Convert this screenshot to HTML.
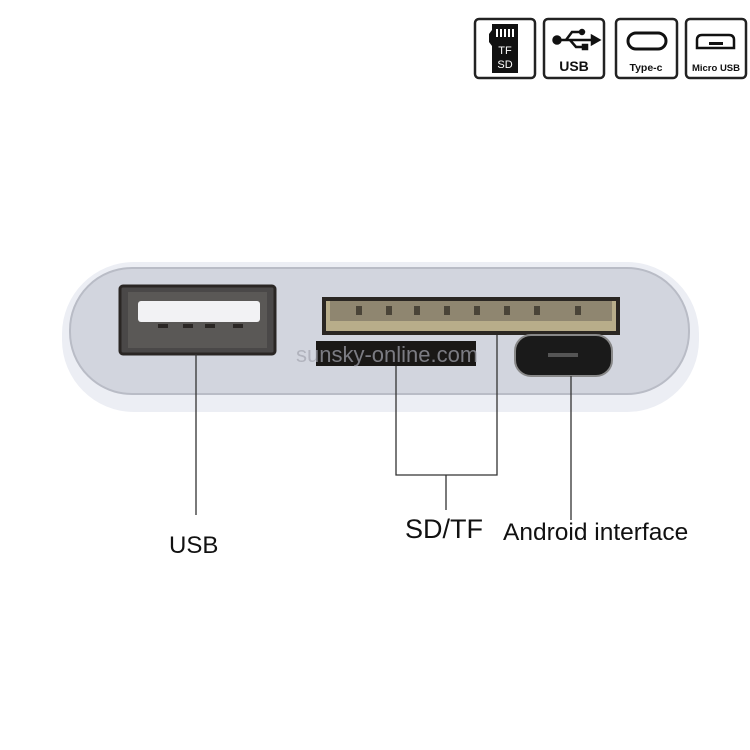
<!DOCTYPE html>
<html><head><meta charset="utf-8"><style>
html,body{margin:0;padding:0;background:#fff;}
svg{display:block}
text{font-family:"Liberation Sans",sans-serif;}
</style></head><body>
<svg width="750" height="750" viewBox="0 0 750 750" xmlns="http://www.w3.org/2000/svg">
<g fill="none" stroke="#222" stroke-width="2.5">
<rect x="475" y="19" width="60" height="59" rx="4"/>
<rect x="544" y="19" width="60" height="59" rx="4"/>
<rect x="616" y="19" width="61" height="59" rx="4"/>
<rect x="686" y="19" width="60" height="59" rx="4"/>
</g>
<path d="M492 24 H518 V73 H492 V46 L489 42 V34 L492 30 Z" fill="#111"/>
<g fill="#fff"><rect x="496" y="29" width="2" height="8"/><rect x="500" y="29" width="2" height="8"/><rect x="504" y="29" width="2" height="8"/><rect x="508" y="29" width="2" height="8"/><rect x="512" y="29" width="2" height="8"/></g>
<text x="505" y="54" font-size="11" fill="#fff" text-anchor="middle">TF</text>
<text x="505" y="68" font-size="11" fill="#fff" text-anchor="middle">SD</text>
<g stroke="#111" stroke-width="2.5" fill="#111">
<line x1="557" y1="40" x2="593" y2="40"/>
<circle cx="557" cy="40" r="3.5"/>
<path d="M592 36 L599 40 L592 44Z"/>
<polyline points="566,40 572,32 580,32" fill="none"/>
<polyline points="570,40 576,47 584,47" fill="none"/>
<circle cx="582" cy="32" r="2"/>
<rect x="583" y="45" width="4" height="4"/>
</g>
<text x="574" y="71" font-size="14" font-weight="bold" fill="#111" text-anchor="middle">USB</text>
<rect x="628" y="33" width="38" height="16" rx="8" fill="none" stroke="#111" stroke-width="3"/>
<text x="646" y="71" font-size="10.5" font-weight="bold" fill="#111" text-anchor="middle">Type-c</text>
<path d="M697 48 V40 Q697 35 702 35 H729 Q734 35 734 40 V48 Z" fill="none" stroke="#111" stroke-width="2.5"/>
<rect x="709" y="42" width="14" height="3" fill="#111"/>
<text x="716" y="71" font-size="9.5" font-weight="bold" fill="#111" text-anchor="middle">Micro USB</text>
<rect x="62" y="262" width="637" height="150" rx="72" fill="#eceef4"/>
<rect x="70" y="268" width="619" height="126" rx="62" fill="#d2d5de" stroke="#b9bcc6" stroke-width="2"/>
<rect x="120" y="286" width="155" height="68" rx="3" fill="#4a4848" stroke="#2a2624" stroke-width="3"/>
<rect x="128" y="292" width="139" height="56" fill="#5a5856"/>
<rect x="138" y="301" width="122" height="21" rx="3" fill="#f2f2f4"/>
<g fill="#2a2624"><rect x="158" y="324" width="10" height="4"/><rect x="183" y="324" width="10" height="4"/><rect x="205" y="324" width="10" height="4"/><rect x="233" y="324" width="10" height="4"/></g>
<rect x="322" y="297" width="298" height="38" fill="#2a2622"/>
<rect x="326" y="301" width="290" height="30" fill="#b8ad8a"/>
<rect x="330" y="301" width="282" height="20" fill="#8f8670"/>
<g fill="#4a4438"><rect x="356" y="306" width="6" height="9"/><rect x="386" y="306" width="6" height="9"/><rect x="414" y="306" width="6" height="9"/><rect x="444" y="306" width="6" height="9"/><rect x="474" y="306" width="6" height="9"/><rect x="504" y="306" width="6" height="9"/><rect x="534" y="306" width="6" height="9"/><rect x="575" y="306" width="6" height="9"/></g>
<rect x="316" y="341" width="160" height="25" fill="#1a1816"/>
<text x="296" y="362" font-size="22" fill="#a4a6b0" opacity="0.7">sunsky-online.com</text>
<rect x="515" y="335" width="97" height="41" rx="16" fill="#1a1a1a" stroke="#888" stroke-width="2"/>
<rect x="548" y="353" width="30" height="4" fill="#555"/>
<g stroke="#333" stroke-width="1.3" fill="none">
<line x1="196" y1="354" x2="196" y2="515"/>
<polyline points="396,366 396,475 497,475 497,335"/>
<line x1="446" y1="475" x2="446" y2="510"/>
<line x1="571" y1="376" x2="571" y2="520"/>
</g>
<text x="169" y="553" font-size="24" fill="#111">USB</text>
<text x="405" y="538" font-size="27" fill="#111">SD/TF</text>
<text x="503" y="540" font-size="24.5" fill="#111">Android interface</text>
</svg>
</body></html>
